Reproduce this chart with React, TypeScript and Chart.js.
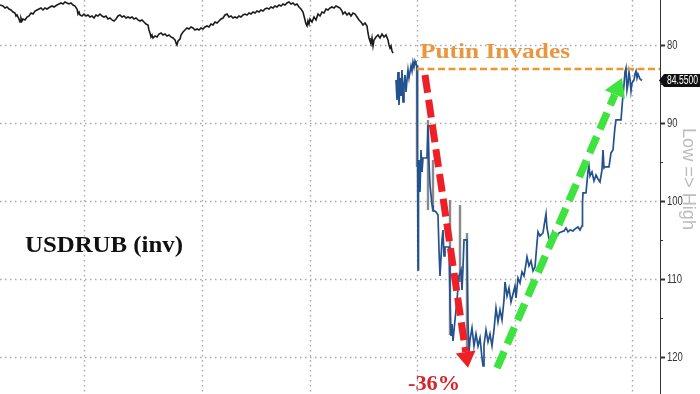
import React, { useEffect, useRef } from "react";
import { Chart, registerables } from "chart.js";
Chart.register(...registerables);

// ---- data (x = trading-day index, y = USDRUB rate, inverted axis) ----
const preDays = [0,3,5,7,9,11,13,15,16,17,19,20,21,22,23,25,27,29,31,33,35,37,39,41,43,45,47,50,52,54,57,59,61,63,65,67,69,71,73,75,77,78,79,80,82,84,86,88,90,92,94,96,98,100,102,104,106,108,110,112,114,116,118,120,122,124,126,128,130,132,134,136,138,140,142,144,146,148,149,150,151,152,153,155,157,159,161,163,165,167,169,171,173,175,176,177,178,180,181,183,185,187,189,191,193,195,197,199,201,203,205,207,209,211,213,215,217,219,221,223,225,227,229,231,233,235,237,239,241,243,245,247,249,251,253,255,257,259,261,263,265,267,269,271,273,275,277,279,281,283,285,287,289,291,293,295,297,299,301,303,304,305,306,307,308,309,310,312,314,316,318,320,322,324,326,328,330,332,334,336,338,340,342,343,345,347,349,351,353,355,357,359,361,363,365,367,368,369,370,371,372,373,374,376,378,380,382,384,386,388,389,390,391,392,393];
const preRate = [74.87,75.00,75.26,75.13,75.38,75.51,75.77,75.90,76.28,76.15,76.67,77.05,76.54,76.92,76.67,76.79,76.41,76.28,75.90,76.03,75.64,75.51,75.38,75.26,75.51,75.26,75.38,75.13,75.00,75.13,74.87,74.74,74.61,74.74,74.49,74.61,74.74,74.61,74.87,75.00,75.38,76.03,75.77,76.15,76.28,76.03,76.28,76.15,76.41,76.28,76.54,76.15,76.28,76.03,76.28,76.41,76.28,76.67,76.54,76.79,76.92,76.67,76.28,76.15,76.41,76.28,76.54,76.41,76.54,76.41,76.67,76.54,76.79,76.92,76.79,77.05,77.31,77.44,78.08,78.46,78.97,78.72,79.10,78.85,78.97,78.59,78.46,78.72,78.59,78.85,78.72,78.97,79.10,79.36,79.74,80.00,79.49,79.23,78.72,78.33,78.08,77.82,77.95,77.69,77.82,78.08,77.95,78.08,77.82,77.95,77.69,77.56,77.69,77.31,77.44,77.05,77.18,76.92,76.67,76.54,76.15,76.03,76.41,76.28,76.54,76.41,76.54,76.28,76.41,76.15,76.03,76.15,75.90,76.03,75.77,75.90,75.64,75.77,75.51,75.64,75.38,75.26,75.38,75.13,75.26,75.00,75.13,74.87,75.00,74.74,74.87,74.61,74.49,74.74,74.61,74.87,74.74,75.13,75.38,75.77,76.28,76.79,77.31,77.56,76.92,77.31,76.67,77.05,76.41,76.79,76.03,76.28,75.77,75.90,75.38,75.51,75.26,75.13,75.26,75.00,75.13,75.26,75.64,76.03,75.77,76.15,75.90,76.28,75.90,76.03,76.41,76.79,77.05,77.44,77.18,77.56,78.46,79.10,79.49,79.87,79.10,80.13,79.36,78.97,78.72,79.10,78.59,78.97,78.72,79.36,80.00,80.38,80.13,80.77,81.03];

const postDays = [396,397,398,399,400,401,402,403,404,405,406,407,408,409,410,411,412,413,414,415,416,417,417.5,418,418.5,419,420,421,422,423,427,428,429,430,432,433,436,438,439,440,441,442,443,444,445,449,450,451,452,453,455,457,459,461,462,463,464,467,468,469,470,472,474,476,478,480,482,483,484,486,488,490,492,494,496,498,500,502,504,505,507,509,511,513,515,516,518,520,522,524,526,527,529,531,533,535,537,538,540,543,545,546,547,549,551,553,555,557,559,561,564,566,568,570,573,575,578,580,582,582.5,583,586,588,589,590,592,594,596,598,600,602,603,604,605,609,610,611,613,614,615,616,621,622,623,624,625,626,627,628,629,630,631,632,634,635,636,637,638,640,642];
const postRate = [84.49,87.05,83.46,87.69,84.23,86.54,83.20,87.31,85.13,83.85,86.02,84.49,83.20,84.23,83.46,82.69,83.33,82.18,82.82,82.05,82.43,82.69,93.46,108.84,97.31,94.74,98.85,93.46,96.28,94.49,94.49,90.26,95.00,97.95,100.51,101.15,101.41,101.79,106.28,109.61,107.31,104.99,103.72,107.05,105.90,105.90,112.69,117.31,115.77,117.95,115.26,112.69,109.61,108.84,111.41,108.59,104.99,104.99,115.51,119.36,117.82,116.28,118.59,117.05,118.59,117.56,120.13,121.15,118.46,116.54,118.07,117.05,118.59,116.54,113.72,115.51,113.97,115.25,112.69,110.38,112.18,111.15,112.95,111.92,110.90,112.43,109.87,110.51,109.10,109.61,108.07,107.18,108.33,107.69,108.97,108.46,105.38,103.97,104.49,104.10,102.43,101.66,103.46,104.87,105.13,103.97,104.61,104.49,104.10,103.97,103.84,103.46,103.97,103.72,103.84,103.59,103.33,103.72,103.20,100.13,98.97,98.97,96.15,95.51,96.79,96.28,97.43,96.67,97.18,97.56,96.02,93.46,95.77,95.64,95.64,94.74,93.84,93.46,91.92,90.51,89.61,89.61,87.95,86.41,85.13,83.46,82.95,85.77,85.00,83.46,84.36,85.90,84.87,84.49,83.72,83.33,84.23,83.72,84.36,84.55];

const wickDays = [417, 428, 433, 450, 460, 467];
const wickHigh = [82.56, 89.61, 94.74, 99.87, 100.51, 104.10];
const wickLow = [95.64, 101.15, 101.41, 117.18, 110.38, 119.10];

const gridDays = [84, 202, 310, 417, 515, 632];
const yTicks = [80, 85, 90, 95, 100, 105, 110, 115, 120];
const xMax = 660;
const yMin = 74.23;
const yMax = 124.75;

const invasionDay = 417;
const invasionLevel = 83.08;
const lastRate = 84.55;
const redArrowFrom = [425, 83.85];
const redArrowTo = [468, 121.4];
const greenArrowFrom = [497, 121.41];
const greenArrowTo = [622, 84.23];

function fitText(ctx: CanvasRenderingContext2D, text: string, x: number, y: number, font: string, color: string, width?: number, rot = 0) {
  ctx.save();
  ctx.font = font;
  ctx.fillStyle = color;
  ctx.textBaseline = "alphabetic";
  ctx.textAlign = "left";
  const w = ctx.measureText(text).width;
  ctx.translate(x, y);
  if (rot) ctx.rotate(rot);
  if (width) ctx.scale(width / w, 1);
  ctx.fillText(text, 0, 0);
  ctx.restore();
}

function arrow(ctx: CanvasRenderingContext2D, x1: number, y1: number, x2: number, y2: number, color: string, dash: number[], lw: number, headLen: number, headHalf: number) {
  const dx = x2 - x1, dy = y2 - y1;
  const len = Math.hypot(dx, dy);
  const ux = dx / len, uy = dy / len;
  const bx = x2 - ux * headLen, by = y2 - uy * headLen;
  ctx.save();
  ctx.strokeStyle = color;
  ctx.fillStyle = color;
  ctx.lineWidth = lw;
  ctx.setLineDash(dash);
  ctx.lineCap = "butt";
  ctx.beginPath();
  ctx.moveTo(x1, y1);
  ctx.lineTo(bx, by);
  ctx.stroke();
  ctx.setLineDash([]);
  ctx.beginPath();
  ctx.moveTo(x2, y2);
  ctx.lineTo(bx - uy * headHalf, by + ux * headHalf);
  ctx.lineTo(bx + uy * headHalf, by - ux * headHalf);
  ctx.closePath();
  ctx.fill();
  ctx.restore();
}

const decorPlugin = {
  id: "decor",
  beforeDatasetsDraw(chart: any) {
    const { ctx, chartArea: a, scales } = chart;
    const xs = scales.x, ys = scales.y;
    ctx.save();
    ctx.strokeStyle = "#a8a8a8";
    ctx.lineWidth = 1.4;
    ctx.setLineDash([1.5, 3.5]);
    for (const d of gridDays) {
      const px = Math.round(xs.getPixelForValue(d)) + 0.5;
      ctx.beginPath();
      ctx.moveTo(px, a.top);
      ctx.lineTo(px, a.bottom);
      ctx.stroke();
    }
    for (const v of yTicks) {
      if (v % 10 !== 0) continue;
      const py = Math.round(ys.getPixelForValue(v)) + 0.5;
      ctx.beginPath();
      ctx.moveTo(a.left, py);
      ctx.lineTo(a.right, py);
      ctx.stroke();
    }
    ctx.restore();
  },
  afterDatasetsDraw(chart: any) {
    const { ctx, chartArea: a, scales } = chart;
    const xs = scales.x, ys = scales.y;
    ctx.save();
    ctx.strokeStyle = "#f0962e";
    ctx.lineWidth = 2.5;
    ctx.setLineDash([7, 3.5]);
    const ly = ys.getPixelForValue(invasionLevel);
    ctx.beginPath();
    ctx.moveTo(xs.getPixelForValue(invasionDay), ly);
    ctx.lineTo(a.right, ly);
    ctx.stroke();
    ctx.restore();

    arrow(ctx, xs.getPixelForValue(redArrowFrom[0]), ys.getPixelForValue(redArrowFrom[1]),
      xs.getPixelForValue(redArrowTo[0]), ys.getPixelForValue(redArrowTo[1]), "#ee1f26", [18, 7], 7, 16, 10);
    arrow(ctx, xs.getPixelForValue(greenArrowFrom[0]), ys.getPixelForValue(greenArrowFrom[1]),
      xs.getPixelForValue(greenArrowTo[0]), ys.getPixelForValue(greenArrowTo[1]), "#3fe33f", [18, 8], 7.5, 18, 11);

    fitText(ctx, "Putin Invades", 420, 58, "bold 22px 'Liberation Serif', serif", "#e9963f", 150);
    fitText(ctx, "USDRUB (inv)", 25, 252, "bold 24px 'Liberation Serif', serif", "#111111", 158);
    fitText(ctx, "-36%", 408, 390, "bold 22px 'Liberation Serif', serif", "#d8232a", 52);
  },
  afterDraw(chart: any) {
    const { ctx, chartArea: a, scales } = chart;
    const ys = scales.y;
    ctx.save();
    ctx.strokeStyle = "#333";
    for (const v of yTicks) {
      const py = Math.round(ys.getPixelForValue(v)) + 0.5;
      const major = v % 10 === 0;
      ctx.lineWidth = major ? 2 : 1;
      ctx.beginPath();
      ctx.moveTo(a.right, py);
      ctx.lineTo(a.right + (major ? 5 : 3), py);
      ctx.stroke();
      if (major) {
        ctx.save();
        ctx.font = "12.5px 'Liberation Sans', sans-serif";
        ctx.fillStyle = "#333";
        ctx.textBaseline = "middle";
        ctx.translate(a.right + 7, py + 0.5);
        ctx.scale(0.76, 1);
        ctx.fillText(String(v), 0, 0);
        ctx.restore();
      }
    }
    ctx.restore();
    const ty = ys.getPixelForValue(lastRate);
    ctx.save();
    ctx.fillStyle = "#111";
    ctx.beginPath();
    ctx.moveTo(a.right - 1, ty);
    ctx.lineTo(a.right + 4, ty - 6.5);
    ctx.lineTo(700, ty - 6.5);
    ctx.lineTo(700, ty + 6.5);
    ctx.lineTo(a.right + 4, ty + 6.5);
    ctx.closePath();
    ctx.fill();
    ctx.restore();
    fitText(ctx, "84.5500", a.right + 7, ty + 4, "12px 'Liberation Sans', sans-serif", "#ffffff", 31);
    fitText(ctx, "Low => High", 683, 128, "18px 'Liberation Sans', sans-serif", "#bdbdbd", 102, Math.PI / 2);
  },
};

export default function App() {
  const ref = useRef<HTMLCanvasElement>(null);
  useEffect(() => {
    document.body.style.margin = "0";
    const canvas = ref.current!;
    const chart = new Chart(canvas, {
      type: "line",
      data: {
        datasets: [
          {
            data: postDays.map((d, i) => ({ x: d, y: postRate[i] })),
            borderColor: "#24528f",
            borderWidth: 1.7,
            pointRadius: 0,
            tension: 0,
          },
          {
            data: wickDays.flatMap((d, i) => [{ x: d, y: wickHigh[i] }, { x: d, y: wickLow[i] }, { x: d, y: null }]),
            borderColor: "#8a8a8a",
            borderWidth: 2.4,
            pointRadius: 0,
            spanGaps: false,
          },
          {
            data: preDays.map((d, i) => ({ x: d, y: preRate[i] })),
            borderColor: "#1b1b1b",
            borderWidth: 1.6,
            pointRadius: 0,
            tension: 0,
          },
        ],
      },
      options: {
        animation: false,
        responsive: false,
        devicePixelRatio: 1,
        layout: { padding: 0 },
        plugins: { legend: { display: false }, tooltip: { enabled: false } },
        scales: {
          x: { type: "linear", min: 0, max: xMax, display: false },
          y: {
            type: "linear",
            position: "right",
            reverse: true,
            min: yMin,
            max: yMax,
            grid: { display: false, drawTicks: false },
            border: { display: true, color: "#333", width: 1 },
            ticks: { display: false },
            afterFit: (s: any) => {
              s.width = 40;
              s.paddingTop = 0;
              s.paddingBottom = 0;
            },
          },
        },
      },
      plugins: [decorPlugin],
    } as any);
    return () => chart.destroy();
  }, []);
  return (
    <div style={{ position: "absolute", left: 0, top: 0, width: 700, height: 394, background: "#fff" }}>
      <canvas ref={ref} width={700} height={394} />
    </div>
  );
}
